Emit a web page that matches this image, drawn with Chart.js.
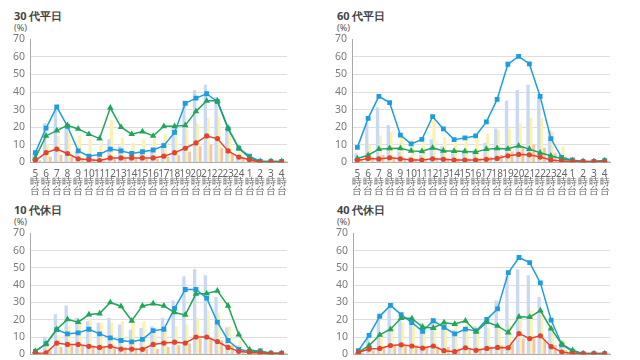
<!DOCTYPE html>
<html><head><meta charset="utf-8">
<script src="https://cdn.jsdelivr.net/npm/chart.js@4/dist/chart.umd.min.js"></script>
<style>
html,body{margin:0;padding:0;background:#fff;width:640px;height:360px;overflow:hidden;font-family:"Noto Sans",sans-serif;}
.t{position:absolute;font-size:11px;font-weight:bold;color:#444;white-space:nowrap;}
.u{position:absolute;font-size:9px;color:#555;white-space:nowrap;}
canvas{position:absolute;}
</style></head><body>
<div class="t" style="left:14px;top:8px">30 代平日</div><div class="u" style="left:14px;top:21px">(%)</div>
<div class="t" style="left:337px;top:8px">60 代平日</div><div class="u" style="left:337px;top:21px">(%)</div>
<div class="t" style="left:14px;top:202px">10 代休日</div><div class="u" style="left:14px;top:215px">(%)</div>
<div class="t" style="left:337px;top:202px">40 代休日</div><div class="u" style="left:337px;top:215px">(%)</div>
<canvas id="c1" width="300" height="175" style="left:0;top:28px"></canvas>
<canvas id="c2" width="300" height="175" style="left:320px;top:28px"></canvas>
<canvas id="c3" width="300" height="175" style="left:0;top:222px"></canvas>
<canvas id="c4" width="300" height="175" style="left:320px;top:222px"></canvas>
<script>
const categories = ["5","6","7","8","9","10","11","12","13","14","15","16","17","18","19","20","21","22","23","24","1","2","3","4"];
const yTicks = [0,10,20,30,40,50,60,70];

// background bars (weekday)
const weekdayBarBlue   = [5,22,31,21,6,3,4,13,9,5,5,7,11,19,35,41,44,37,18,4,2,1,1,1];
const weekdayBarYellow = [1,10,15,17,15,13,11,24,14,11,13,13,16,18,19,22,25,25,17,9,2,1,1,1];
const weekdayBarPink   = [1,3,4,3,2,2,1,2,2,2,2,2,3,4,6,9,10,8,5,3,1,0.5,0.5,0.5];
// background bars (holiday)
const holidayBarBlue   = [1,10,23,28,21,19,18,21,17,14,15,16,21,31,45,49,45.5,33,15.5,5,2,1.5,1,1];
const holidayBarYellow = [1,5,11,16,18,20,18,18,19,19,19,13,15,16,17,21,25,24,16,8,2,1,1,1];
const holidayBarPink   = [0.5,2,4,5,5,5,4,4,4,3,3,3,4,5,6,9,9,8,5,2,1,0.5,0.5,0.5];

// 30代平日
const p30Blue  = [5.5,19.5,31.5,20.5,6.5,3.5,4.5,7.5,6.5,5,6,7,9.5,17,33.5,36.5,39,34.5,19,8,3.5,0.5,0.5,0.5];
const p30Green = [2.5,15,18,21,19,16,13.5,31,20,16,17.5,15,20.5,20.5,21,29,35,35,19.5,8,2.5,0.5,0.5,0.5];
const p30Red   = [1,5.5,7.5,5,2,1.5,1,2.5,2.5,2.5,2.5,2.5,3.5,5.5,8,11,15,13.5,6.5,3,1.5,0,0,0];
// 60代平日
const p60Blue  = [8.5,25,37.5,34,15.5,10.5,13,26,19,12.9,13.9,15,23,35.8,55.8,60.3,56,37.5,13.5,2.8,1.3,0.5,0.5,1];
const p60Green = [2.2,4,7.5,7.9,8,6.5,6.2,8.2,6.5,6.4,6.2,5.8,7.5,7.9,7.7,9.4,7.5,5.4,3.7,2,1,0.5,0.5,1];
const p60Red   = [1,2.2,1.9,2.6,2,1.3,1.3,2,1.7,1.3,1.3,1.3,1.7,2.2,3.7,4.5,4.3,3,1.3,0.7,0.5,0.3,0.3,0.3];
// 10代休日
const h10Blue  = [1.7,6.1,14.3,11.8,12.4,14.5,11.8,9.5,8,7.2,8.6,13.7,14.5,26.6,37.5,37.5,32.5,18.6,8,2.9,1.7,1.9,0.6,0.6];
const h10Green = [1.9,6.1,14.5,20.2,18.6,23,23.6,30,27.8,19.4,28,29.3,28,24.2,22.8,35,35.2,36.7,28,11.4,2.7,1.5,0.6,0.6];
const h10Red   = [0.6,0.8,6.5,5.7,5.7,4.6,4,4.6,3,3,2.9,5.7,6.5,7,6.5,10,10,7.4,4,1.7,1.1,0.8,0.3,0.3];
// 40代休日
const h40Blue  = [2.1,11,22,28.3,23,18.3,13.3,19.4,15.6,11.8,14.6,13.5,20.2,26.3,47.2,56,53,41.3,19.8,5.5,1.7,0.4,0.4,0.4];
const h40Green = [1.1,5,11.2,14.5,21,20.7,15.8,15.2,18.3,17.5,19.4,13,18.6,16.4,12.6,21.7,21.5,25.3,14.8,5.9,2.3,0.4,0.4,0.4];
const h40Red   = [1,3,3.4,5.1,5.5,4.8,3.6,4.8,2.1,1.5,3.8,2.3,3.4,4,3.8,12,9.1,10.7,4.4,1.3,0.4,0.2,0.2,0.2];

const C = {barBlue:'#c9d9f2', barYellow:'#fcf2b0', barPink:'#f3c3af',
           blue:'#1d9de0', green:'#21a55a', red:'#e6432d'};

function makeChart(id, bars, lines, axisW, padR, padT, xH){
  const [bb,by,bp] = bars, [lb,lg,lr] = lines;
  const lineDs = (data,color,style,r)=>({type:'line',data,borderColor:color,backgroundColor:color,
      borderWidth:1.5,pointStyle:style,pointRadius:r,pointBorderWidth:0,tension:0,order:0});
  new Chart(document.getElementById(id),{
    data:{labels:categories.map(c=>[c,'時','台']),
      datasets:[
        lineDs(lr,C.red,'circle',2.6),
        lineDs(lg,C.green,'triangle',3.8),
        lineDs(lb,C.blue,'rect',3.4),
        {type:'bar',data:categories.map(()=>null),backgroundColor:'rgba(0,0,0,0)',order:1},
        {type:'bar',data:bb,backgroundColor:C.barBlue,order:1},
        {type:'bar',data:by,backgroundColor:C.barYellow,order:1},
        {type:'bar',data:bp,backgroundColor:C.barPink,order:1}
      ]},
    options:{responsive:false,animation:false,
      datasets:{bar:{categoryPercentage:1.0,barPercentage:1.0}},
      layout:{padding:{top:padT,right:padR,left:0,bottom:0}},
      plugins:{legend:{display:false},tooltip:{enabled:false}},
      scales:{
        x:{offset:true,grid:{display:false},border:{display:true,color:'#aaa'},
           ticks:{autoSkip:false,maxRotation:0,minRotation:0,padding:0,color:'#666',
             font:{family:'"Noto Sans", sans-serif',size:10,lineHeight:0.82}},
           afterFit:s=>{s.height=xH;}},
        y:{min:0,max:70,afterBuildTicks:s=>{s.ticks=yTicks.map(v=>({value:v}));},
           grid:{drawTicks:false,color:ctx=>(ctx.tick.value===0||ctx.tick.value===70)?'rgba(0,0,0,0)':'#dedede'},
           border:{display:true,color:'#aaa'},
           ticks:{padding:5,color:'#7a7a7a',font:{family:'"Noto Sans", sans-serif',size:10.5}},
           afterFit:s=>{s.width=axisW;}}
      }}
  });
}
makeChart('c1',[weekdayBarBlue,weekdayBarYellow,weekdayBarPink],[p30Blue,p30Green,p30Red],30,13,10,40.7);
makeChart('c2',[weekdayBarBlue,weekdayBarYellow,weekdayBarPink],[p60Blue,p60Green,p60Red],32,10,10,40.7);
makeChart('c3',[holidayBarBlue,holidayBarYellow,holidayBarPink],[h10Blue,h10Green,h10Red],30,13,9.7,42.7);
makeChart('c4',[holidayBarBlue,holidayBarYellow,holidayBarPink],[h40Blue,h40Green,h40Red],33,10,9.7,42.7);
</script>
</body></html>
